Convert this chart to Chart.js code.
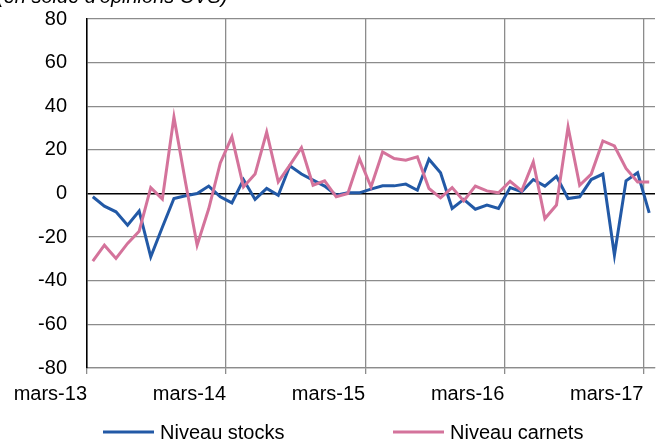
<!DOCTYPE html>
<html>
<head>
<meta charset="utf-8">
<script src="https://cdn.jsdelivr.net/npm/chart.js@4.4.0/dist/chart.umd.min.js"></script>
<style>
  html, body { margin: 0; padding: 0; background: #fff; }
  #wrap { position: relative; width: 656px; height: 442px; }
</style>
</head>
<body>
<div id="wrap"><canvas id="chart"></canvas></div>
<script>
// monthly values, mars-13 .. avril-17 (49 months)
const tickLabels = ["mars-13", "mars-14", "mars-15", "mars-16", "mars-17"];
const tickMonths = [0, 12, 24, 36, 48];

const stocks = [-1.5, -5.8, -8.4, -14.5, -8, -29, -15.5, -2.3, -1, 0, 3.4, -1.5,
  -4.3, 6.4, -2.7, 2.3, -0.8, 12.7, 8.9, 6.1, 3.4, -0.8, 0.3, 0.3,
  2, 3.5, 3.5, 4.3, 1.5, 15.7, 9.5, -6.9, -2.7, -7.2, -5.3, -6.9,
  2.7, 0.8, 6.4, 3.4, 7.9, -2.3, -1.5, 6.4, 8.9, -28.2, 5.8, 9.5, -8.9];

const carnets = [-31, -23.7, -29.8, -22.9, -17.3, 2.7, -2.6, 35, 5, -23.7, -7, 14,
  26, 3, 8.9, 28.2, 5.3, 13, 21, 3.8, 5.8, -1.5, 0, 16,
  3, 19, 16, 15.3, 16.8, 2.3, -2, 2.7, -3.4, 3.4, 1.2, 0.3,
  5.6, 1.2, 14.5, -11.5, -5.3, 30.5, 3.8, 8.9, 24.1, 21.8, 11.5, 5.3, 5.3];

const FONT = "'Liberation Sans', Arial, sans-serif";
const GRID = "#8c8c8c";

// subtitle cut at the top + hand drawn legend under the axis
const extras = {
  id: "extras",
  afterDraw(chart) {
    const ctx = chart.ctx;
    ctx.save();
    ctx.fillStyle = "#000";
    ctx.font = "italic 20px " + FONT;
    ctx.textBaseline = "alphabetic";
    ctx.fillText("(en solde d'opinions CVS)", -3, 2.5);

    const xs = [103, 393];
    const y = 432;
    ctx.font = "20px " + FONT;
    ctx.textBaseline = "middle";
    chart.data.datasets.forEach((ds, i) => {
      ctx.strokeStyle = ds.borderColor;
      ctx.lineWidth = 3;
      ctx.beginPath();
      ctx.moveTo(xs[i], y);
      ctx.lineTo(xs[i] + 51, y);
      ctx.stroke();
      ctx.fillText(ds.label, xs[i] + 57, y + 1);
    });
    ctx.restore();
  }
};

new Chart(document.getElementById("chart"), {
  type: "line",
  data: {
    datasets: [
      {
        label: "Niveau stocks",
        data: stocks.map((v, i) => ({ x: i, y: v })),
        borderColor: "#2259A6",
        borderWidth: 3,
        pointRadius: 0,
        tension: 0,
        order: 1
      },
      {
        label: "Niveau carnets",
        data: carnets.map((v, i) => ({ x: i, y: v })),
        borderColor: "#D4739B",
        borderWidth: 3,
        pointRadius: 0,
        tension: 0,
        order: 0
      }
    ]
  },
  options: {
    responsive: true,
    maintainAspectRatio: false,
    animation: false,
    layout: { padding: { top: 19, right: 1, left: 0, bottom: 0 } },
    plugins: {
      legend: { display: false },
      tooltip: { enabled: false }
    },
    scales: {
      x: {
        type: "linear",
        min: -0.5,
        max: 48.5,
        afterBuildTicks: s => {
          s.ticks = tickMonths.map(m => ({ value: m - 0.5 }));
        },
        afterFit: s => { s.height = 74; },
        grid: {
          color: c => (c.index === 0 ? "rgba(0,0,0,0)" : GRID),
          lineWidth: 1.3,
          tickLength: 6,
          tickColor: GRID
        },
        border: { color: GRID, width: 1.3 },
        ticks: {
          align: "end",
          padding: 8,
          color: "#000",
          font: { family: FONT, size: 20 },
          maxRotation: 0,
          autoSkip: false,
          callback: v => tickLabels[tickMonths.indexOf(v + 0.5)]
        }
      },
      y: {
        min: -80,
        max: 80,
        afterFit: s => { s.width = 87; },
        grid: {
          color: c => (c.tick && c.tick.value === 0 ? "#000" : GRID),
          lineWidth: c => (c.tick && c.tick.value === 0 ? 1.6 : 1.3),
          drawTicks: true,
          tickLength: 18,
          tickColor: "rgba(0,0,0,0)"
        },
        border: { color: "#000", width: 1.6 },
        ticks: {
          stepSize: 20,
          padding: 2,
          color: "#000",
          font: { family: FONT, size: 20 }
        }
      }
    }
  },
  plugins: [extras]
});
</script>
</body>
</html>
